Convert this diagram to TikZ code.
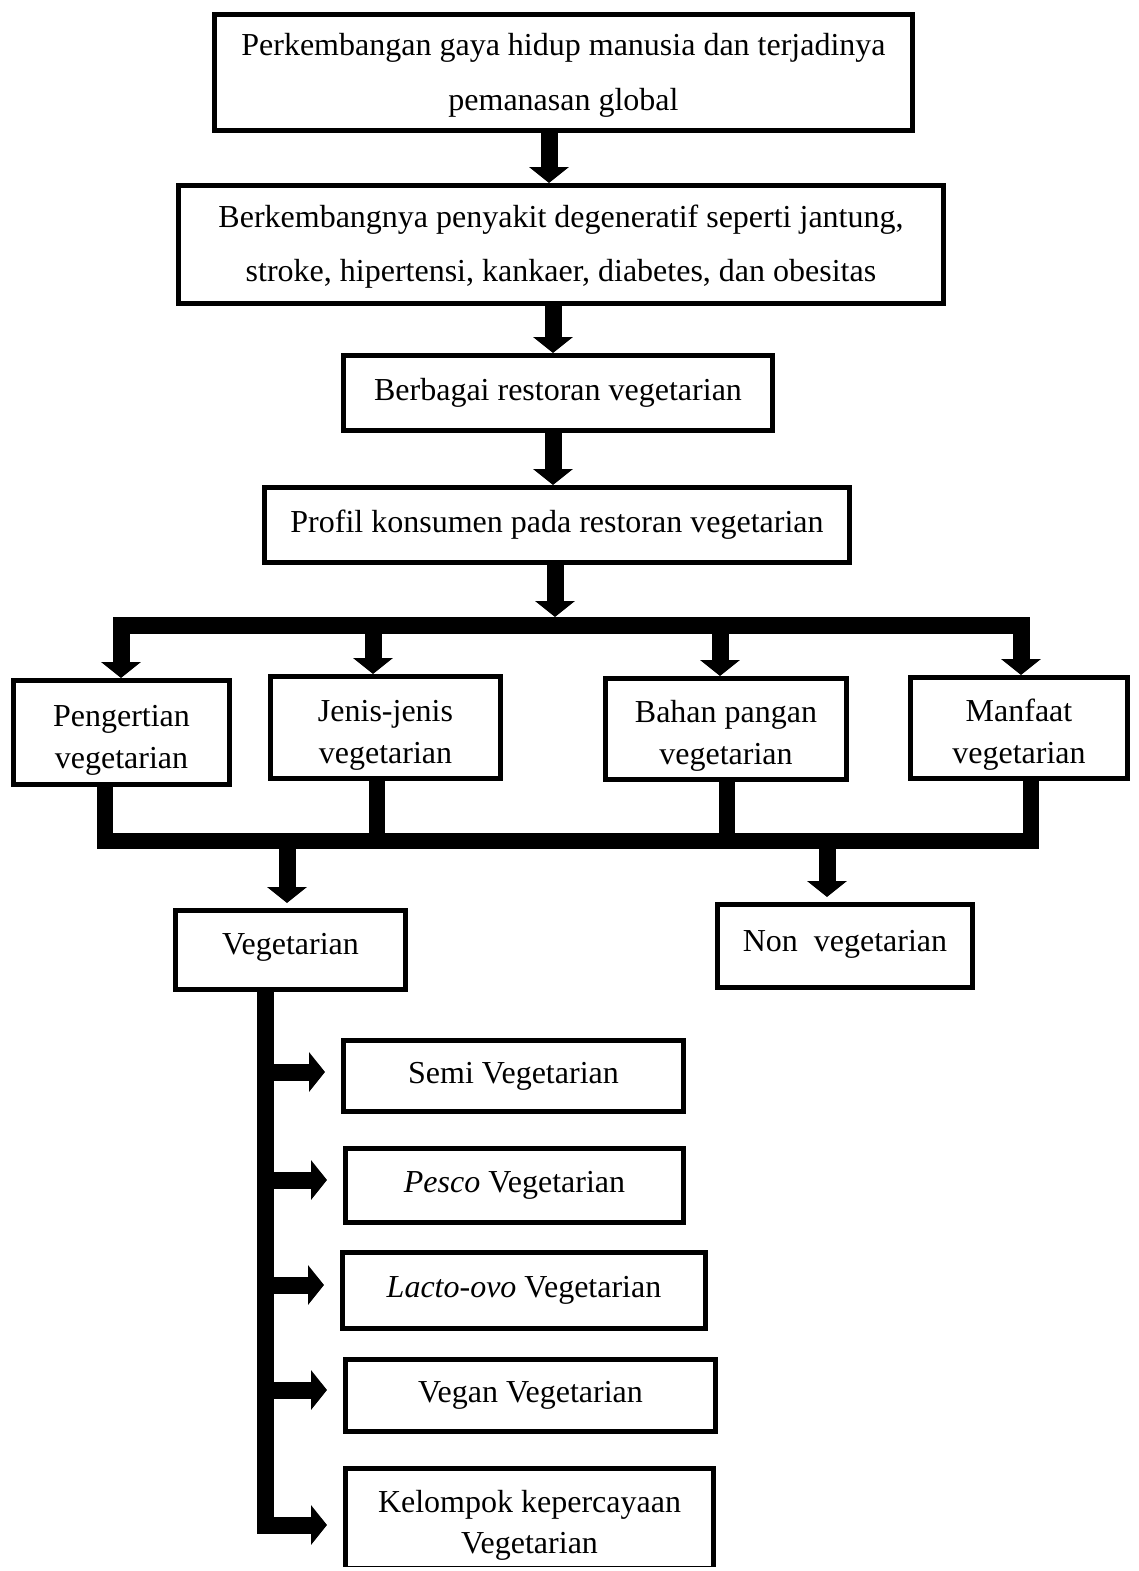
\documentclass[tikz,border=0pt]{standalone}
\usepackage{fontspec}
\setmainfont{Liberation Serif}
\usetikzlibrary{arrows.meta}
\newcommand{\tstrut}[1]{\rule{0pt}{#1}}
\begin{document}
\begin{tikzpicture}[x=0.5pt,y=-0.5pt,
  box/.style={draw,line width=2.5pt,inner sep=0pt,align=center,font=\fontsize{16}{21}\selectfont},
  arr/.style={line width=8.5pt,line join=miter,-{Triangle[width=19.5pt,length=8pt]}},
  ln/.style={line width=8pt,line join=miter}]
\path[use as bounding box] (0,0) rectangle (1139,1571);
\begin{scope}
\clip (0,0) rectangle (1139,1566);
% main chain
\node[box,minimum width=349pt,minimum height=58pt,font=\fontsize{16}{27.5}\selectfont] (top) at (563.5,72.5) {\tstrut{14pt}Perkembangan gaya hidup manusia dan terjadinya\\pemanasan global};
\node[box,minimum width=382.5pt,minimum height=59pt,font=\fontsize{16}{27}\selectfont] (deg) at (561,244.5) {\tstrut{13pt}Berkembangnya penyakit degeneratif seperti jantung,\\stroke, hipertensi, kankaer, diabetes, dan obesitas};
\node[box,minimum width=214.5pt,minimum height=37.5pt] (res) at (558,393) {Berbagai restoran vegetarian};
\node[box,minimum width=292.5pt,minimum height=37.5pt] (pro) at (557,525) {Profil konsumen pada restoran vegetarian};
% row of four
\node[box,minimum width=108pt,minimum height=52pt] (pen) at (121.5,732.5) {\tstrut{18pt}Pengertian\\vegetarian};
\node[box,minimum width=115pt,minimum height=51pt] (jen) at (385.5,727.5) {\tstrut{18pt}Jenis-jenis\\vegetarian};
\node[box,minimum width=120.5pt,minimum height=50.5pt] (bah) at (726,729) {\tstrut{18pt}Bahan pangan\\vegetarian};
\node[box,minimum width=108.5pt,minimum height=50.5pt] (man) at (1019,728) {\tstrut{18pt}Manfaat\\vegetarian};
% veg / non
\node[box,text depth=6.5pt,minimum width=115pt,minimum height=39.5pt] (veg) at (290.5,950) {Vegetarian};
\node[box,text depth=5.5pt,minimum width=127.5pt,minimum height=41.5pt] (non) at (845,946) {Non\ \ vegetarian};
% sub types
\node[box,minimum width=170pt,minimum height=35.5pt] (semi) at (513.5,1076) {Semi Vegetarian};
\node[box,minimum width=169pt,minimum height=37pt] (pes) at (514.5,1185.5) {\textit{Pesco} Vegetarian};
\node[box,minimum width=181.5pt,minimum height=38pt] (lac) at (524,1290) {\textit{Lacto-ovo} Vegetarian};
\node[box,minimum width=185pt,minimum height=36pt] (vgn) at (530.5,1395.5) {Vegan Vegetarian};
\node[box,minimum width=184pt,minimum height=50pt,font=\fontsize{16}{20.5}\selectfont] (kel) at (529.5,1518.5) {\tstrut{18pt}Kelompok kepercayaan\\Vegetarian};
% coordinates
\coordinate (x1) at (549,0);
\coordinate (x2) at (553,0);
\coordinate (x3) at (553,0);
\coordinate (bartop) at (555,617);
\coordinate (barmid) at (555,625);
\coordinate (d1) at (121,0);
\coordinate (d2) at (373,0);
\coordinate (d3) at (720,0);
\coordinate (d4) at (1021,0);
\coordinate (bl) at (105,841);
\coordinate (bj) at (377,841);
\coordinate (bb) at (727,841);
\coordinate (br) at (1031,841);
\coordinate (vb) at (287,841);
\coordinate (nb) at (827,841);
\coordinate (s1) at (265,1072);
\coordinate (s2) at (265,1180);
\coordinate (s3) at (265,1285);
\coordinate (s4) at (265,1390);
\coordinate (s5) at (265,1525);
% main arrows
\draw[arr] (top.south -| x1) -- (deg.north -| x1);
\draw[arr] (deg.south -| x2) -- (res.north -| x2);
\draw[arr] (res.south -| x3) -- (pro.north -| x3);
\draw[arr] (pro.south -| bartop) -- (bartop);
% distribution bar
\draw[arr] (barmid) -| (pen.north -| d1);
\draw[arr] (barmid) -| (jen.north -| d2);
\draw[arr] (barmid) -| (bah.north -| d3);
\draw[arr] (barmid) -| (man.north -| d4);
% collecting bar
\draw[ln] (pen.south -| bl) -- (bl) -- (br) -- (man.south -| br);
\draw[ln] (jen.south -| bj) -- (bj);
\draw[ln] (bah.south -| bb) -- (bb);
\draw[arr,shorten >=2.5pt] (vb) -- (veg.north -| vb);
\draw[arr,shorten >=2.5pt] (nb) -- (non.north -| nb);
% spine
\draw[arr,shorten >=8pt] (veg.south -| s5) -- (s5) -- (kel.west |- s5);
\draw[arr,shorten >=8pt] (s1) -- (semi.west |- s1);
\draw[arr,shorten >=8pt] (s2) -- (pes.west |- s2);
\draw[arr,shorten >=8pt] (s3) -- (lac.west |- s3);
\draw[arr,shorten >=8pt] (s4) -- (vgn.west |- s4);
\end{scope}
\end{tikzpicture}
\end{document}
